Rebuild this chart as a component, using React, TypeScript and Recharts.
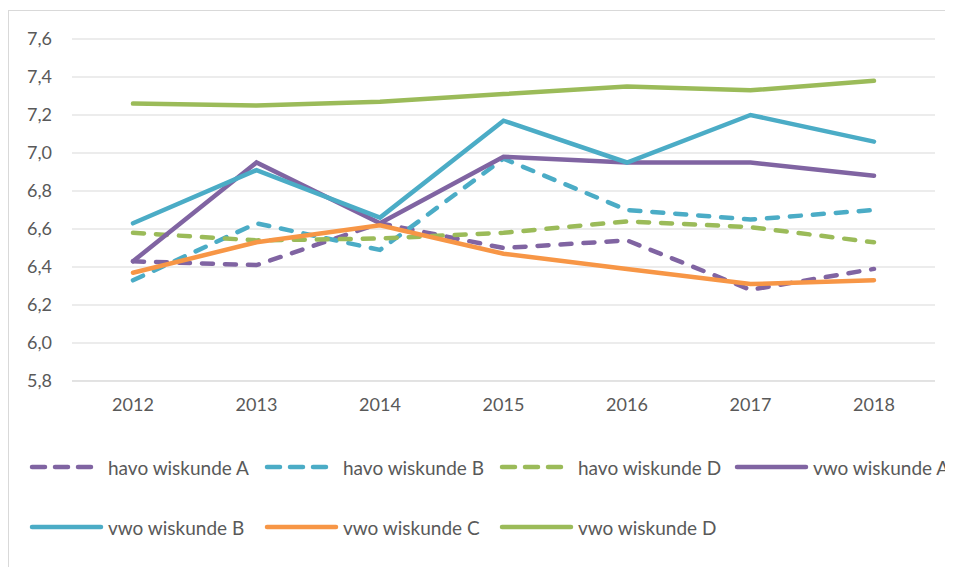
import { LineChart, Line, XAxis, YAxis, CartesianGrid } from 'recharts';

const years = ['2012', '2013', '2014', '2015', '2016', '2017', '2018'];
const havoA = [6.43, 6.41, 6.63, 6.5, 6.54, 6.28, 6.39];
const havoB = [6.33, 6.63, 6.49, 6.97, 6.7, 6.65, 6.7];
const havoD = [6.58, 6.54, 6.55, 6.58, 6.64, 6.61, 6.53];
const vwoA = [6.43, 6.95, 6.63, 6.98, 6.95, 6.95, 6.88];
const vwoB = [6.63, 6.91, 6.66, 7.17, 6.95, 7.2, 7.06];
const vwoC = [6.37, 6.53, 6.62, 6.47, 6.39, 6.31, 6.33];
const vwoD = [7.26, 7.25, 7.27, 7.31, 7.35, 7.33, 7.38];
const yTicks = [5.8, 6.0, 6.2, 6.4, 6.6, 6.8, 7.0, 7.2, 7.4, 7.6];

const series = [
  { key: 'havoA', name: 'havo wiskunde A', color: '#8064a2', dashed: true },
  { key: 'havoB', name: 'havo wiskunde B', color: '#4bacc6', dashed: true },
  { key: 'havoD', name: 'havo wiskunde D', color: '#9bbb59', dashed: true },
  { key: 'vwoA', name: 'vwo wiskunde A', color: '#8064a2', dashed: false },
  { key: 'vwoB', name: 'vwo wiskunde B', color: '#4bacc6', dashed: false },
  { key: 'vwoC', name: 'vwo wiskunde C', color: '#f79646', dashed: false },
  { key: 'vwoD', name: 'vwo wiskunde D', color: '#9bbb59', dashed: false },
];

const data = years.map((year, i) => ({
  year,
  havoA: havoA[i],
  havoB: havoB[i],
  havoD: havoD[i],
  vwoA: vwoA[i],
  vwoB: vwoB[i],
  vwoC: vwoC[i],
  vwoD: vwoD[i],
}));

const font = 'Lato, "Open Sans", sans-serif';
const fmt = (v: number) => v.toFixed(1).replace('.', ',');

const LegendItem = ({ s }: { s: (typeof series)[number] }) => (
  <div style={{ width: 235, display: 'flex', alignItems: 'center', flexShrink: 0 }}>
    <svg width={79} height={10}>
      <line
        x1={3}
        y1={5}
        x2={s.dashed ? 63 : 72}
        y2={5}
        stroke={s.color}
        strokeWidth={4.5}
        strokeLinecap="round"
        strokeDasharray={s.dashed ? '13 10' : undefined}
      />
    </svg>
    <span style={{ whiteSpace: 'nowrap' }}>{s.name}</span>
  </div>
);

export default function App() {
  return (
    <div style={{ paddingTop: 2, width: 945, overflow: 'hidden' }}>
      <div
        style={{
          border: '1px solid #d9d9d9',
          width: 1000,
          height: 600,
          background: '#fff',
          fontFamily: font,
        }}
      >
        <LineChart width={944} height={410} data={data} margin={{ top: 28, right: 18, bottom: 0, left: 0 }}>
          <CartesianGrid vertical={false} stroke="#d9d9d9" strokeWidth={1} />
          <XAxis
            dataKey="year"
            padding={{ left: 61, right: 61 }}
            axisLine={{ stroke: '#d9d9d9' }}
            tickLine={false}
            tickSize={0}
            tickMargin={17}
            height={40}
            tick={{ fill: '#595959', fontSize: 18, fontFamily: font }}
          />
          <YAxis
            domain={[5.8, 7.6]}
            ticks={yTicks}
            tickFormatter={fmt}
            axisLine={false}
            tickLine={false}
            tickSize={0}
            tickMargin={20}
            width={63}
            tick={{ fill: '#595959', fontSize: 18, fontFamily: font }}
          />
          {series.map((s) => (
            <Line
              key={s.key}
              type="linear"
              dataKey={s.key}
              name={s.name}
              stroke={s.color}
              strokeWidth={4.5}
              strokeLinecap="round"
              strokeDasharray={s.dashed ? '11 12' : undefined}
              dot={false}
              activeDot={false}
              isAnimationActive={false}
            />
          ))}
        </LineChart>
        <div style={{ color: '#595959', fontSize: 19, marginLeft: 20 }}>
          <div style={{ display: 'flex', height: 60, alignItems: 'center', marginTop: 16 }}>
            {series.slice(0, 4).map((s) => (
              <LegendItem key={s.key} s={s} />
            ))}
          </div>
          <div style={{ display: 'flex', height: 60, alignItems: 'center' }}>
            {series.slice(4).map((s) => (
              <LegendItem key={s.key} s={s} />
            ))}
          </div>
        </div>
      </div>
    </div>
  );
}
